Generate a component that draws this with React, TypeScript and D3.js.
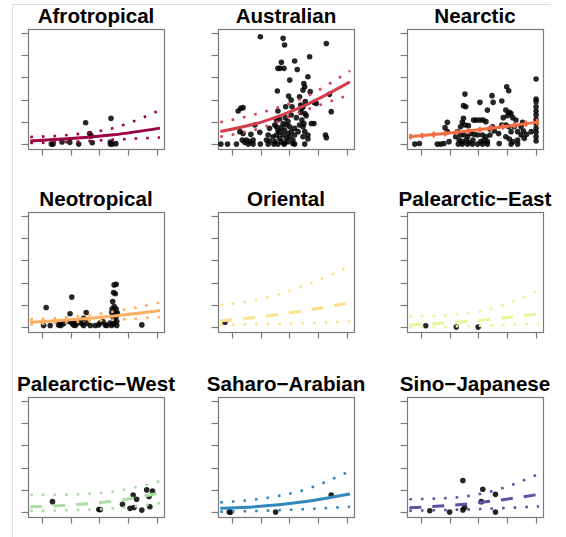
import React from "react"
import * as d3 from "d3"

// region panels, in reading order
const regions = ["Afrotropical", "Australian", "Nearctic", "Neotropical", "Oriental",
    "Palearctic\u2212East", "Palearctic\u2212West", "Saharo\u2212Arabian", "Sino\u2212Japanese"]
const colours = ["#9E0142", "#D53E4F", "#F46D43", "#FDAE61", "#FEE08B", "#E6F598", "#ABDDA4", "#3288BD", "#5E4FA2"]
const significant = [true, true, true, true, false, false, false, true, false]

const xTicks = [0, 1, 2, 3, 4]
const yTicks = [0, 1, 2, 3, 4, 5]

// fitted curve and its confidence band, read at these x positions
const fitX = [-0.4, 1, 2.5, 4.1]
const fitMid = [
    [0.14, 0.25, 0.42, 0.72],
    [0.57, 0.98, 1.72, 2.8],
    [0.33, 0.5, 0.72, 1.0],
    [0.22, 0.33, 0.5, 0.75],
    [0.28, 0.46, 0.74, 1.1],
    [0.1, 0.2, 0.36, 0.6],
    [0.24, 0.32, 0.5, 0.86],
    [0.17, 0.26, 0.47, 0.82],
    [0.2, 0.3, 0.5, 0.8],
]
const fitUpper = [
    [0.32, 0.42, 0.73, 1.53],
    [0.98, 1.41, 2.09, 3.3],
    [0.4, 0.57, 0.79, 1.09],
    [0.35, 0.45, 0.7, 1.1],
    [1.0, 1.26, 1.86, 2.75],
    [0.47, 0.55, 0.85, 1.65],
    [0.77, 0.79, 0.93, 1.4],
    [0.44, 0.6, 1.0, 1.85],
    [0.58, 0.64, 0.95, 1.72],
]
const fitLower = [
    [0.05, 0.1, 0.2, 0.3],
    [0.33, 0.72, 1.5, 2.22],
    [0.27, 0.43, 0.65, 0.92],
    [0.12, 0.22, 0.33, 0.45],
    [0.1, 0.13, 0.18, 0.25],
    [0.0, 0.03, 0.08, 0.15],
    [0.06, 0.09, 0.17, 0.4],
    [0.02, 0.06, 0.13, 0.24],
    [0.06, 0.1, 0.16, 0.26],
]

// observed points [x, y]
const afroPts = [[0.33, 0], [0.39, 0], [0.7, 0.1], [0.97, 0.08], [1.28, 0], [1.52, 0.96], [1.66, 0.48],
    [1.71, 0.37], [1.75, 0.06], [2.4, 1.16], [2.38, 0.09], [2.38, 0], [2.44, 0], [2.57, 0.02]]
const australPts = [[0.99, 4.83], [1.78, 4.76], [1.83, 4.46], [3.28, 4.53], [2.7, 3.93], [1.72, 3.68], [2.18, 3.74],
    [1.6, 3.41], [1.67, 3.41], [1.81, 3.41], [2.27, 3.36], [2.01, 2.88], [2.64, 3.03], [2.5, 2.73], [2.53, 2.58],
    [1.58, 2.39], [2.47, 2.43], [2.72, 2.36], [1.97, 2.16], [2.06, 1.98], [2.35, 2.13], [3.39, 2.24], [2.85, 1.88],
    [2.93, 1.83], [0.31, 1.61], [0.39, 1.64], [1.87, 1.68], [2.09, 1.68], [3.45, 1.46], [0.22, 1.49], [1.6, 1.49],
    [2.39, 1.43], [2.53, 1.38], [2.58, 1.28], [2.06, 1.31], [2.24, 1.19], [1.86, 1.19], [1.55, 1.08], [1.66, 1.13],
    [1.95, 1.01], [2.43, 1.08], [2.5, 0.92], [2.76, 0.93], [2.85, 0.93], [0.8, 0.86], [1.31, 0.71], [1.55, 0.78],
    [1.6, 0.62], [1.72, 0.74], [1.83, 0.62], [2.01, 0.78], [2.06, 0.56], [2.18, 0.71], [2.47, 0.78], [2.53, 0.56],
    [2.64, 0.41], [0.28, 0.56], [0.39, 0.48], [0.66, 0.44], [0.97, 0.53], [1.26, 0.41], [1.43, 0.33], [1.55, 0.41],
    [1.66, 0.26], [1.78, 0.41], [1.89, 0.26], [2.01, 0.33], [2.12, 0.18], [2.18, 0.41], [2.47, 0.33], [2.64, 0.23],
    [3.25, 0.41], [3.28, 0.29], [0.36, 0.18], [0.51, 0.18], [0.62, 0.11], [0.74, 0.18], [1.2, 0.18], [1.31, 0.14],
    [1.49, 0.11], [1.72, 0.11], [1.83, 0.03], [1.95, 0.11], [2.12, 0.03], [-0.38, 0], [-0.15, 0], [0.16, 0],
    [0.45, 0.08], [0.57, 0], [0.74, 0], [0.99, 0], [1.26, 0], [1.46, 0], [1.6, 0], [1.81, 0], [2.18, 0], [2.53, 0],
    [1.49, 0.86], [1.78, 0.93], [1.89, 0.86], [1.66, 0.53], [1.95, 0.48], [2.3, 0.56], [2.35, 0.86], [2.39, 1.76],
    [2.43, 1.61], [2.55, 1.91], [2.47, 1.68]]
const nearcticPts = [[4.0, 2.93], [4.0, 2.03], [4.0, 1.91], [4.0, 1.68], [4.0, 1.49], [4.0, 1.31], [4.0, 1.11],
    [4.0, 0.93], [4.0, 0.71], [4.0, 0.53], [4.0, 0.33], [4.0, 0.14], [2.98, 2.58], [3.05, 2.4], [2.47, 2.18],
    [2.51, 1.88], [2.05, 1.88], [2.81, 1.94], [1.53, 2.25], [1.48, 1.73], [1.56, 1.68], [2.31, 1.53], [2.95, 1.53],
    [3.07, 1.43], [3.01, 1.28], [3.13, 1.38], [2.86, 1.19], [3.19, 1.19], [3.3, 1.08], [0.92, 0.98], [1.48, 1.16],
    [1.44, 0.98], [1.83, 1.08], [1.93, 1.08], [2.05, 1.08], [2.16, 1.08], [2.26, 1.01], [1.53, 0.86], [1.65, 0.83],
    [1.38, 0.78], [2.49, 0.78], [2.4, 0.68], [2.81, 0.86], [2.95, 0.86], [3.05, 0.78], [3.24, 0.78], [3.13, 0.56],
    [3.36, 0.56], [3.48, 0.78], [3.53, 0.98], [3.56, 0.59], [0.84, 0.74], [0.92, 0.56], [1.27, 0.56], [1.38, 0.41],
    [1.5, 0.41], [1.62, 0.33], [1.73, 0.48], [1.85, 0.44], [1.97, 0.41], [2.14, 0.41], [2.26, 0.33], [2.4, 0.41],
    [2.55, 0.59], [2.7, 0.48], [1.21, 0.33], [1.33, 0.18], [1.44, 0.11], [1.58, 0.18], [1.67, 0.08], [1.81, 0.18],
    [2.08, 0.11], [2.2, 0.18], [2.31, 0.11], [2.72, 0.03], [2.95, 0.33], [3.07, 0.23], [3.19, 0.11], [3.36, 0.18],
    [3.48, 0.41], [3.59, 0.26], [3.67, 0.44], [3.83, 0.56], [-0.21, 0], [-0.05, 0.03], [0.57, 0], [0.69, 0],
    [0.8, 0.03], [0.98, 0.11], [1.3, 0], [1.44, 0], [1.62, 0], [1.79, 0], [1.97, 0], [2.14, 0], [2.31, 0],
    [3.13, 0], [3.36, 0]]
const neotropPts = [[2.51, 1.9], [2.58, 1.93], [2.49, 1.56], [2.55, 1.5], [2.46, 1.15], [2.51, 0.93], [2.44, 0.81],
    [2.58, 0.81], [2.43, 0.66], [2.54, 0.66], [2.62, 0.63], [2.46, 0.48], [2.58, 0.48], [2.51, 0.33], [2.6, 0.25],
    [2.49, 0.15], [2.6, 0.07], [2.42, 0.07], [1.04, 1.35], [0.15, 0.88], [0.98, 0.6], [1.54, 0.66], [1.45, 0.4],
    [0.06, 0.07], [0.29, 0.07], [0.58, 0.1], [0.66, 0.07], [0.75, 0.15], [1.04, 0.18], [1.1, 0.1], [1.16, 0.07],
    [1.21, 0.15], [1.39, 0.15], [1.45, 0.07], [1.56, 0.18], [1.68, 0.07], [1.85, 0.07], [1.97, 0.1], [2.02, 0.18],
    [2.12, 0.25], [2.2, 0.1], [2.25, 0.07], [2.37, 0.18], [0.64, 0.18], [0.92, 0.25], [1.1, 0.25], [1.33, 0.25],
    [3.47, 0.1]]
const orientalPts = [[-0.24, 0.22]]
const palEastPts = [[0.17, 0.06], [1.23, 0], [1.99, 0]]
const palWestPts = [[0.37, 0.47], [1.98, 0.12], [2.03, 0.12], [2.8, 0.35], [3.06, 0.17], [3.2, 0.2], [3.17, 0.77],
    [3.29, 0.58], [3.47, 0.09], [3.64, 1.0], [3.84, 0.95], [3.72, 0.7], [3.75, 0.24]]
const saharoPts = [[-0.09, 0], [-0.04, 0], [1.52, 0], [3.45, 0.77]]
const sinoPts = [[0.31, 0.06], [1.0, 0], [1.46, 1.42], [1.46, 0.1], [1.52, 0.2], [2.1, 0.47], [2.15, 1.03],
    [2.59, 0.8], [2.59, 0]]

const points = [afroPts, australPts, nearcticPts, neotropPts, orientalPts, palEastPts, palWestPts, saharoPts, sinoPts]

const colLeft = [28, 218, 407]
const rowTop = [29, 212, 397]
const boxW = 136
const boxH = 120
const axisCol = "#7a7a7a"

const scaleX = d3.scaleLinear().domain([-0.48, 4.24]).range([0, boxW])
const scaleY = d3.scaleLinear().domain([-0.22, 5.18]).range([boxH, 0])
const line = d3.line<number>()
    .x((d, i) => scaleX(fitX[i]))
    .y(d => scaleY(d))
    .curve(d3.curveMonotoneX)

const Panel = ({ i }: { i: number }) => {
    const left = colLeft[i % 3]
    const top = rowTop[Math.floor(i / 3)]
    const col = colours[i]
    return (
        <g transform={`translate(${left}, ${top})`}>
            <text x={boxW / 2} y={-6} textAnchor="middle" fontFamily="'Liberation Sans', Arial, sans-serif"
                fontWeight="bold" fontSize={20.6} fill="#000">{regions[i]}</text>
            <rect x={0.5} y={0.5} width={boxW} height={boxH} fill="none" stroke={axisCol} strokeWidth={1.2} />
            {yTicks.map(t => (
                <line key={"y" + t} x1={0.5} x2={-6.5} y1={Math.round(scaleY(t)) + 0.5} y2={Math.round(scaleY(t)) + 0.5}
                    stroke={axisCol} strokeWidth={1.2} />
            ))}
            {xTicks.map(t => (
                <line key={"x" + t} y1={boxH + 0.5} y2={boxH + 6.5} x1={Math.round(scaleX(t)) + 0.5} x2={Math.round(scaleX(t)) + 0.5}
                    stroke={axisCol} strokeWidth={1.2} />
            ))}
            {points[i].map((p, k) => (
                <circle key={k} cx={scaleX(p[0])} cy={scaleY(p[1])} r={2.8} fill="#000" fillOpacity={0.85} />
            ))}
            <path d={line(fitUpper[i]) || ""} fill="none" stroke={col} strokeWidth={2.6} strokeDasharray="2.6 9" />
            <path d={line(fitLower[i]) || ""} fill="none" stroke={col} strokeWidth={2.6} strokeDasharray="2.6 9" />
            <path d={line(fitMid[i]) || ""} fill="none" stroke={col} strokeWidth={3}
                strokeDasharray={significant[i] ? undefined : "12 11"} />
        </g>
    )
}

export default function App() {
    return (
        <svg width={566} height={537} style={{ position: "absolute", left: 0, top: 0, background: "#fff" }}>
            <line x1={12} x2={551} y1={4.5} y2={4.5} stroke="#dcdcdc" strokeWidth={1} />
            <line x1={12.5} x2={12.5} y1={4} y2={537} stroke="#dcdcdc" strokeWidth={1} />
            {regions.map((r, i) => <Panel key={r} i={i} />)}
        </svg>
    )
}
